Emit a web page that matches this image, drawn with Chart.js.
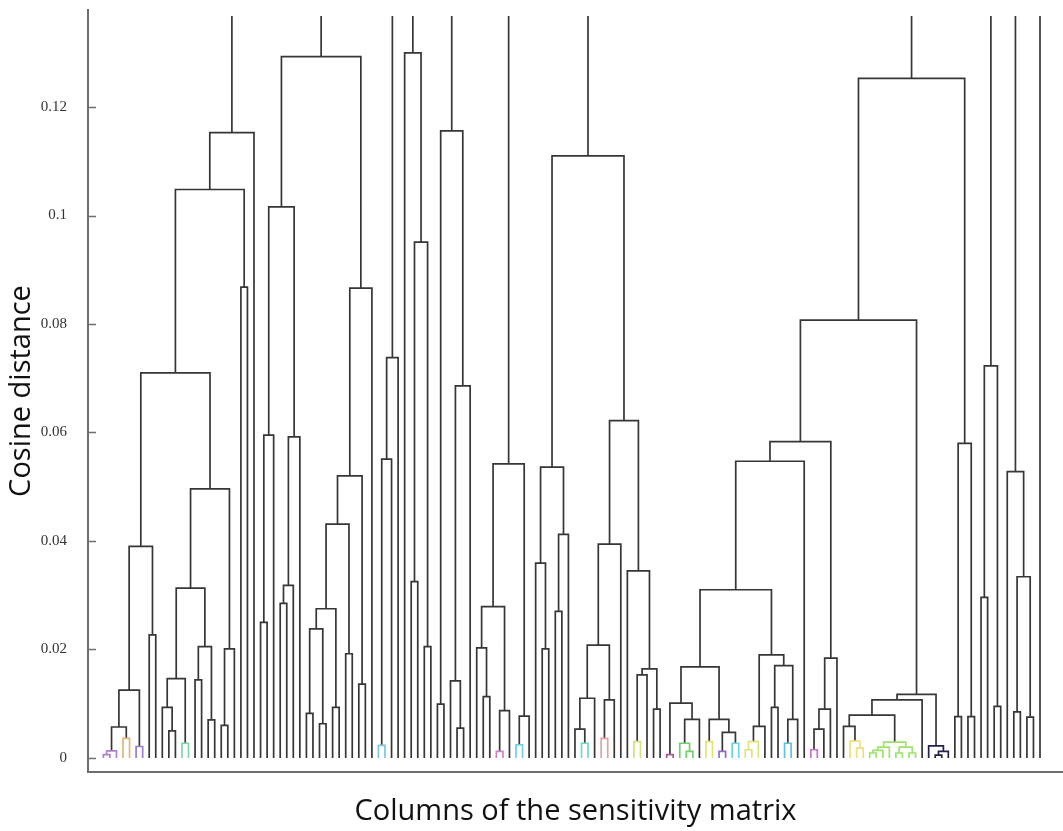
<!DOCTYPE html>
<html>
<head>
<meta charset="utf-8">
<title>Dendrogram: columns of the sensitivity matrix</title>
<script src="https://cdn.jsdelivr.net/npm/chart.js@4.4.1/dist/chart.umd.min.js"></script>
<style>
  html, body { margin: 0; padding: 0; background: #fff; }
  #wrap { width: 1063px; height: 831px; position: relative; }
</style>
</head>
<body>
<div id="wrap"><canvas id="dendro"></canvas></div>
<script>
// ── Data ─────────────────────────────────────────────────────────────────────
// Leaves are numbered 0..143 left to right. Each link is [id, left, right, height]:
// numbers are leaves, strings are clusters defined earlier in the lists.
const leafCount = 144;

const clusterA = [
  ['p1', 0, 1, 0.0006], ['p2', 'p1', 2, 0.0013], ['o1', 3, 4, 0.0036],
  ['pu2', 5, 6, 0.0021], ['a1', 'p2', 'o1', 0.0057], ['a2', 'a1', 'pu2', 0.0125],
  ['a3', 7, 8, 0.0227], ['a4', 'a2', 'a3', 0.0390],
  ['b1', 10, 11, 0.0050], ['b2', 9, 'b1', 0.0093], ['g1', 12, 13, 0.0027],
  ['b3', 'b2', 'g1', 0.0146], ['b4', 14, 15, 0.0144], ['b5', 16, 17, 0.0070],
  ['b6', 'b4', 'b5', 0.0205], ['b7', 'b3', 'b6', 0.0313], ['b8', 18, 19, 0.0060],
  ['b9', 'b8', 20, 0.0201], ['b10', 'b7', 'b9', 0.0496],
  ['c1', 'a4', 'b10', 0.0710], ['c2', 21, 22, 0.0868], ['c3', 'c1', 'c2', 0.1048],
  ['c4', 'c3', 23, 0.1153],
];

const clusterB = [
  ['d1', 24, 25, 0.0250], ['d2', 'd1', 26, 0.0595], ['d3', 27, 28, 0.0285],
  ['d4', 'd3', 29, 0.0318], ['d5', 'd4', 30, 0.0592], ['d6', 'd2', 'd5', 0.1016],
  ['e1', 31, 32, 0.0082], ['e2', 33, 34, 0.0063], ['e3', 'e1', 'e2', 0.0238],
  ['e4', 35, 36, 0.0093], ['e5', 'e3', 'e4', 0.0275], ['e6', 37, 38, 0.0192],
  ['e7', 'e5', 'e6', 0.0431], ['e8', 39, 40, 0.0136], ['e9', 'e7', 'e8', 0.0520],
  ['e10', 'e9', 41, 0.0866], ['f1', 'd6', 'e10', 0.1293],
];

const clusterC = [
  ['cy1', 42, 43, 0.0023], ['g3a', 'cy1', 44, 0.0551], ['g3b', 'g3a', 45, 0.0738],
];

const clusterD = [
  ['h1', 47, 48, 0.0325], ['h2', 49, 50, 0.0205], ['h3', 'h1', 'h2', 0.0951],
  ['h4', 46, 'h3', 0.1300],
];

const clusterE = [
  ['i1', 51, 52, 0.0099], ['i2', 54, 55, 0.0055], ['i3', 53, 'i2', 0.0142],
  ['i4', 'i3', 56, 0.0686], ['i5', 'i1', 'i4', 0.1156],
];

const clusterF = [
  ['j1', 58, 59, 0.0113], ['j2', 57, 'j1', 0.0203], ['pu3', 60, 61, 0.0012],
  ['j3', 'pu3', 62, 0.0087], ['j4', 'j2', 'j3', 0.0279], ['cy2', 63, 64, 0.0024],
  ['j5', 'cy2', 65, 0.0077], ['j6', 'j4', 'j5', 0.0542],
];

const clusterG = [
  ['k1', 67, 68, 0.0201], ['k2', 66, 'k1', 0.0359], ['k3', 69, 70, 0.0270],
  ['k4', 'k3', 71, 0.0412], ['k5', 'k2', 'k4', 0.0536],
  ['cy3', 73, 74, 0.0027], ['l1', 72, 'cy3', 0.0053], ['l2', 'l1', 75, 0.0110],
  ['pk1', 76, 77, 0.0036], ['l3', 'pk1', 78, 0.0107], ['l4', 'l2', 'l3', 0.0208],
  ['l5', 'l4', 79, 0.0394], ['ye1', 81, 82, 0.0030], ['m1', 'ye1', 83, 0.0153],
  ['m2', 84, 85, 0.0090], ['m3', 'm1', 'm2', 0.0164], ['m4', 80, 'm3', 0.0345],
  ['m5', 'l5', 'm4', 0.0622], ['k6', 'k5', 'm5', 0.1110],
];

const clusterH = [
  ['pu4', 86, 87, 0.0006], ['gr1', 89, 90, 0.0012], ['gr2', 88, 'gr1', 0.0027],
  ['n1', 'gr2', 91, 0.0071], ['n2', 'pu4', 'n1', 0.0101],
  ['ye2', 92, 93, 0.0030], ['pu5', 94, 95, 0.0012], ['cy4', 96, 97, 0.0027],
  ['n3', 'pu5', 'cy4', 0.0047], ['n4', 'ye2', 'n3', 0.0071], ['n5', 'n2', 'n4', 0.0168],
  ['ye3a', 98, 99, 0.0015], ['ye3', 'ye3a', 100, 0.0030], ['o2', 'ye3', 101, 0.0058],
  ['o3', 102, 103, 0.0093], ['cy5', 104, 105, 0.0027], ['o4', 'cy5', 106, 0.0071],
  ['o5', 'o3', 'o4', 0.0170], ['o6', 'o2', 'o5', 0.0190], ['o7', 'n5', 'o6', 0.0310],
  ['o8', 'o7', 107, 0.0547],
  ['pk2', 108, 109, 0.0015], ['q1', 'pk2', 110, 0.0053], ['q2', 'q1', 111, 0.0090],
  ['q3', 'q2', 112, 0.0184], ['q4', 'o8', 'q3', 0.0583],
  ['ye4a', 115, 116, 0.0018], ['ye4', 114, 'ye4a', 0.0031], ['r1', 113, 'ye4', 0.0058],
  ['gL1', 117, 118, 0.0009], ['gL2', 'gL1', 119, 0.0014], ['gL3', 'gL2', 120, 0.0020],
  ['gR1', 121, 122, 0.0009], ['gR2', 123, 124, 0.0009], ['gR3', 'gR1', 'gR2', 0.0020],
  ['gT', 'gL3', 'gR3', 0.0029], ['r2', 'r1', 'gT', 0.0079], ['r3', 'r2', 125, 0.0107],
  ['dk1', 127, 128, 0.0005], ['dk2', 'dk1', 129, 0.0012], ['dk3', 126, 'dk2', 0.0022],
  ['r4', 'r3', 'dk3', 0.0117], ['s1', 'q4', 'r4', 0.0807],
  ['s2', 130, 131, 0.0076], ['s3', 132, 133, 0.0076], ['s4', 's2', 's3', 0.0580],
  ['s5', 's1', 's4', 0.1253],
];

const clusterI = [
  ['t1', 134, 135, 0.0296], ['t2', 136, 137, 0.0095], ['t3', 't1', 't2', 0.0723],
];

const clusterJ = [
  ['u1', 139, 140, 0.0085], ['u2', 141, 142, 0.0075], ['u3', 'u1', 'u2', 0.0334],
  ['u4', 138, 'u3', 0.0528],
];

const yTicks = [0, 0.02, 0.04, 0.06, 0.08, 0.1, 0.12];
const yMin = -0.0026;
const yMax = 0.1379;
const stemTop = 0.1368;          // branches above this are cut off in the figure
const colorThreshold = 0.004;

// ── Style ────────────────────────────────────────────────────────────────────
const LINK_COLOR = '#363636';
const AXIS_COLOR = '#6e6e6e';
const TITLE_FONT = { family: "'Open Sans', sans-serif", size: 29 };
// colour of each low cluster, left to right
const groupColors = [
  '#b37fc8', '#e0b67c', '#9c7ec2', '#7fd6a8', '#7cc6da', '#c985c8', '#70d2e0',
  '#74d6d0', '#e2a2a2', '#d6e07e', '#a5589f', '#6fd06c', '#e6e274', '#8d6cc8',
  '#6cd6e6', '#e2e27c', '#5fc4d8', '#cc70cc', '#eee07c', '#9de26c', '#23234a',
];

// ── Build tree geometry ──────────────────────────────────────────────────────
const links = [clusterA, clusterB, clusterC, clusterD, clusterE,
  clusterF, clusterG, clusterH, clusterI, clusterJ].flat();

const pos = {}, height = {}, parentOf = {};
for (let k = 0; k < leafCount; k++) { pos[k] = k; height[k] = 0; }
links.forEach(([id, l, r, h]) => {
  pos[id] = (pos[l] + pos[r]) / 2;
  height[id] = h;
  parentOf[l] = id;
  parentOf[r] = id;
});

// colour groups, as MATLAB does below the colour threshold
const colorOf = {};
const groupRoots = links
  .filter(([id, , , h]) => h < colorThreshold &&
    (parentOf[id] === undefined || height[parentOf[id]] >= colorThreshold))
  .map(([id]) => id)
  .sort((a, b) => pos[a] - pos[b]);
groupRoots.forEach((id, i) => { colorOf[id] = groupColors[i % groupColors.length]; });
for (let i = links.length - 1; i >= 0; i--) {
  const [id, l, r] = links[i];
  if (colorOf[id]) {
    if (typeof l === 'string') colorOf[l] = colorOf[id];
    if (typeof r === 'string') colorOf[r] = colorOf[id];
  }
}

const linkSets = links.map(([id, l, r, h]) => ({
  data: [
    { x: pos[l], y: height[l] }, { x: pos[l], y: h },
    { x: pos[r], y: h }, { x: pos[r], y: height[r] },
  ],
  borderColor: colorOf[id] || LINK_COLOR,
}));

const stemSets = Object.keys(pos)
  .filter(id => parentOf[id] === undefined)
  .map(id => ({
    data: [{ x: pos[id], y: height[id] }, { x: pos[id], y: stemTop }],
    borderColor: LINK_COLOR,
  }));

// ── Inward tick marks on the y axis (MATLAB style) ───────────────────────────
const inwardTicks = {
  id: 'inwardTicks',
  afterDraw(chart) {
    const { ctx, chartArea } = chart;
    const y = chart.scales.y;
    ctx.save();
    ctx.strokeStyle = AXIS_COLOR;
    ctx.lineWidth = 1.5;
    y.ticks.forEach(t => {
      const py = Math.round(y.getPixelForValue(t.value)) + 0.5;
      ctx.beginPath();
      ctx.moveTo(chartArea.left, py);
      ctx.lineTo(chartArea.left + 8, py);
      ctx.stroke();
    });
    ctx.restore();
  },
};

new Chart(document.getElementById('dendro'), {
  type: 'line',
  data: {
    datasets: [...stemSets, ...linkSets].map(d => ({
      ...d,
      borderWidth: 1.7,
      pointRadius: 0,
      tension: 0,
      fill: false,
    })),
  },
  options: {
    responsive: true,
    maintainAspectRatio: false,
    animation: false,
    events: [],
    layout: { padding: { top: 10, right: 0, bottom: 0, left: 0 } },
    plugins: { legend: { display: false }, tooltip: { enabled: false } },
    scales: {
      x: {
        type: 'linear',
        min: -2.344,
        max: 146.51,
        grid: { display: false, drawTicks: false },
        border: { display: true, color: AXIS_COLOR, width: 2 },
        ticks: { display: false },
        title: {
          display: true,
          text: 'Columns of the sensitivity matrix',
          color: '#111',
          font: TITLE_FONT,
          padding: { top: 0, bottom: 2 },
        },
        afterFit: s => { s.height = 59; },
      },
      y: {
        type: 'linear',
        min: yMin,
        max: yMax,
        afterBuildTicks: s => { s.ticks = yTicks.map(v => ({ value: v })); },
        // invisible outer tick marks only push the labels away from the axis
        grid: {
          display: true, drawOnChartArea: false, drawTicks: true,
          tickLength: 21, tickColor: 'rgba(0,0,0,0)',
        },
        border: { display: true, color: AXIS_COLOR, width: 2 },
        ticks: {
          padding: 0,
          color: '#333',
          font: { family: "'Liberation Serif', serif", size: 15 },
          callback: v => String(+v.toFixed(2)),
        },
        title: {
          display: true,
          text: 'Cosine distance',
          color: '#111',
          font: TITLE_FONT,
          padding: { top: 4, bottom: 0 },
        },
        afterFit: s => { s.width = 88; },
      },
    },
  },
  plugins: [inwardTicks],
});
</script>
</body>
</html>
